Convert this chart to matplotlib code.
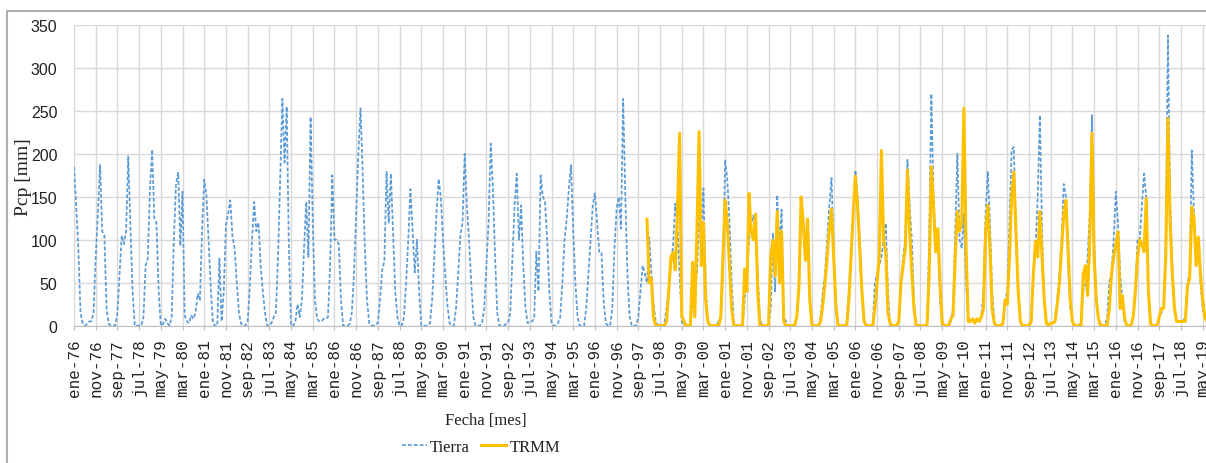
import matplotlib
matplotlib.use("Agg")
import matplotlib.pyplot as plt
from matplotlib.patches import Rectangle

# monthly precipitation [mm], Jan..Dec, starting ene-76
tierra = [
    185, 140, 90, 15, 3, 0, 2, 5, 5, 15, 80, 130,      # 1976
    187, 110, 105, 20, 2, 0, 0, 0, 15, 60, 105, 95,    # 1977
    110, 197, 115, 40, 0, 0, 0, 0, 10, 70, 78, 160,    # 1978
    205, 125, 120, 40, 0, 2, 8, 3, 0, 10, 100, 165,    # 1979
    178, 93, 156, 12, 5, 3, 12, 8, 15, 37, 30, 110,    # 1980
    170, 152, 100, 45, 3, 0, 0, 78, 5, 40, 117, 130,   # 1981
    146, 104, 90, 50, 15, 2, 0, 0, 5, 45, 100, 144,    # 1982
    110, 120, 70, 40, 15, 0, 0, 3, 10, 15, 80, 170,    # 1983
    264, 190, 255, 90, 0, 0, 5, 25, 10, 30, 90, 144,   # 1984
    80, 243, 120, 30, 8, 5, 5, 8, 8, 10, 70, 175,      # 1985
    100, 100, 95, 30, 0, 0, 0, 2, 15, 60, 130, 200,    # 1986
    253, 180, 90, 30, 3, 0, 0, 2, 3, 30, 65, 75,       # 1987
    179, 120, 177, 110, 40, 10, 0, 0, 10, 50, 100, 159,  # 1988
    110, 62, 100, 40, 0, 0, 0, 0, 3, 30, 80, 130,      # 1989
    171, 150, 100, 60, 25, 3, 0, 0, 20, 60, 105, 120,  # 1990
    200, 140, 100, 50, 10, 0, 0, 0, 3, 20, 70, 120,    # 1991
    212, 160, 80, 15, 0, 0, 0, 2, 3, 15, 80, 140,      # 1992
    177, 100, 140, 70, 20, 3, 5, 5, 8, 86, 40, 175,    # 1993
    150, 145, 100, 40, 3, 0, 0, 3, 10, 50, 100, 124,   # 1994
    160, 187, 110, 50, 10, 0, 0, 0, 20, 60, 100, 140,  # 1995
    154, 120, 86, 86, 30, 3, 0, 0, 20, 90, 136, 150,   # 1996
    113, 264, 150, 60, 10, 0, 0, 0, 10, 40, 70, 60,    # 1997
    50, 103, 60, 25, 5, 0, 0, 0, 3, 20, 40, 70,        # 1998
    93, 142, 120, 60, 5, 0, 0, 0, 0, 30, 50, 60,       # 1999
    130, 100, 160, 50, 5, 0, 0, 0, 0, 5, 10, 60,       # 2000
    193, 170, 120, 50, 5, 0, 0, 0, 0, 30, 60, 100,     # 2001
    120, 128, 112, 60, 10, 0, 0, 0, 0, 20, 108, 40,    # 2002
    152, 90, 135, 10, 5, 0, 0, 0, 0, 10, 50, 130,      # 2003
    110, 90, 120, 30, 3, 0, 0, 0, 10, 40, 60, 100,     # 2004
    140, 172, 90, 20, 0, 0, 0, 0, 5, 40, 80, 125,      # 2005
    181, 150, 100, 40, 5, 0, 0, 0, 0, 50, 60, 70,      # 2006
    80, 100, 119, 40, 0, 0, 0, 0, 5, 50, 80, 100,      # 2007
    193, 140, 100, 30, 0, 0, 0, 0, 0, 0, 100, 270,     # 2008
    150, 93, 100, 30, 0, 0, 0, 0, 5, 20, 110, 200,     # 2009
    100, 90, 130, 50, 10, 5, 8, 3, 8, 5, 10, 40,       # 2010
    130, 179, 120, 40, 5, 0, 0, 0, 3, 30, 40, 120,     # 2011
    205, 208, 100, 40, 5, 0, 0, 0, 0, 10, 60, 90,      # 2012
    150, 245, 110, 30, 3, 0, 3, 3, 5, 30, 60, 100,     # 2013
    165, 150, 70, 20, 5, 0, 0, 0, 5, 40, 50, 80,       # 2014
    130, 245, 100, 30, 5, 0, 0, 0, 10, 51, 60, 100,    # 2015
    156, 120, 60, 30, 5, 0, 0, 0, 10, 40, 101, 100,    # 2016
    140, 177, 150, 40, 5, 0, 0, 0, 10, 15, 20, 100,    # 2017
    338, 150, 70, 20, 5, 5, 5, 5, 10, 50, 60, 204,     # 2018
    130, 80, 100, 50, 20, 10, 5,                       # 2019
]

# TRMM from ene-98
trmm = [
    124, 50, 55, 10, 0, 0, 0, 0, 0, 5, 40, 80,         # 1998
    85, 65, 130, 224, 12, 5, 0, 0, 0, 74, 10, 110,     # 1999
    226, 70, 120, 30, 5, 0, 0, 0, 0, 0, 10, 80,        # 2000
    146, 120, 70, 20, 0, 0, 0, 0, 0, 66, 40, 154,      # 2001
    110, 100, 130, 40, 0, 0, 0, 0, 0, 80, 99, 58,      # 2002
    133, 50, 110, 5, 0, 0, 0, 0, 0, 10, 45, 150,       # 2003
    120, 76, 124, 30, 0, 0, 0, 0, 5, 25, 50, 80,       # 2004
    113, 136, 80, 25, 0, 0, 0, 0, 0, 30, 80, 130,      # 2005
    174, 140, 90, 40, 5, 0, 0, 0, 0, 20, 50, 80,       # 2006
    204, 100, 86, 15, 3, 0, 0, 0, 5, 50, 70, 90,       # 2007
    181, 110, 62, 20, 0, 0, 0, 0, 0, 0, 60, 185,       # 2008
    140, 86, 113, 50, 3, 0, 0, 0, 8, 12, 80, 133,      # 2009
    110, 120, 253, 90, 5, 5, 8, 3, 8, 5, 10, 20,       # 2010
    110, 140, 90, 20, 3, 0, 0, 0, 3, 30, 25, 80,       # 2011
    150, 179, 110, 40, 5, 0, 0, 0, 0, 5, 60, 98,       # 2012
    80, 133, 80, 30, 3, 0, 3, 3, 5, 25, 50, 90,        # 2013
    130, 146, 90, 30, 5, 0, 0, 0, 0, 60, 70, 35,       # 2014
    100, 224, 80, 30, 8, 0, 0, 0, 0, 20, 60, 80,       # 2015
    95, 109, 20, 35, 10, 0, 0, 0, 10, 40, 80, 100,     # 2016
    95, 86, 148, 40, 2, 0, 0, 0, 10, 20, 20, 80,       # 2017
    241, 120, 60, 20, 5, 5, 5, 5, 5, 45, 55, 138,      # 2018
    125, 70, 103, 60, 31, 10, 5,                       # 2019
]
trmm_start = 264  # ene-98 counted in months from ene-76

meses = ["ene", "feb", "mar", "abr", "may", "jun",
         "jul", "ago", "sep", "oct", "nov", "dic"]
tick_pos = list(range(0, 521, 10))
tick_labels = [f"{meses[m % 12]}-{(76 + m // 12) % 100:02d}" for m in tick_pos]
y_ticks = [0, 50, 100, 150, 200, 250, 300, 350]

W, H = 1206, 464
fig = plt.figure(figsize=(W / 100, H / 100), dpi=100)

x_last = len(tierra) - 1
x0, y0, y1 = 74, 326.7, 26
px_month = 2.1705
ax = fig.add_axes([x0 / W, 1 - y0 / H, x_last * px_month / W, (y0 - y1) / H])

x_t = list(range(len(tierra)))
x_r = list(range(trmm_start, trmm_start + len(trmm)))
ax.plot(x_t, tierra, color="#5b9bd5", lw=1.25, dashes=(2.2, 1.2), zorder=3, label="Tierra")
ax.plot(x_r, trmm, color="#ffc000", lw=2.2, zorder=4, label="TRMM")

ax.set_xlim(0, x_last)
ax.set_ylim(0, 350)
ax.set_yticks(y_ticks)
ax.set_xticks(tick_pos)
ax.set_xticklabels(tick_labels, rotation=90, family="Liberation Mono", fontsize=11.5, color="#222222")
for t in ax.get_yticklabels():
    t.set_family("Liberation Sans")
    t.set_fontsize(11.5)
    t.set_color("#222222")

ax.grid(True, color="#d9d9d9", lw=1.0)
ax.set_axisbelow(True)
for s in ["top", "right"]:
    ax.spines[s].set_visible(False)
ax.spines["left"].set_color("#d9d9d9")
ax.spines["bottom"].set_color("#bfbfbf")
ax.tick_params(axis="y", length=0, pad=12)
ax.tick_params(axis="x", length=3, color="#bfbfbf", pad=6)

fig.text(23 / W, 1 - 177 / H, "Pcp [mm]", rotation=90, ha="center", va="center",
         family="Liberation Serif", fontsize=14, color="#222222")
fig.text(486 / W, 1 - 421 / H, "Fecha [mes]", ha="center", va="center",
         family="Liberation Serif", fontsize=12, color="#222222")
fig.legend(loc="center", bbox_to_anchor=(481 / W, 1 - 448 / H), ncol=2, frameon=False,
           prop={"family": "Liberation Serif", "size": 12}, handlelength=1.5,
           handletextpad=0.2, columnspacing=0.7, labelcolor="#222222")

fig.patches.append(Rectangle((6.5 / W, -0.1), 1.2, 1.1 - 12 / H, transform=fig.transFigure,
                             fill=False, edgecolor="#b0b0b0", lw=1.5))

fig.savefig("out.png", dpi=100)
